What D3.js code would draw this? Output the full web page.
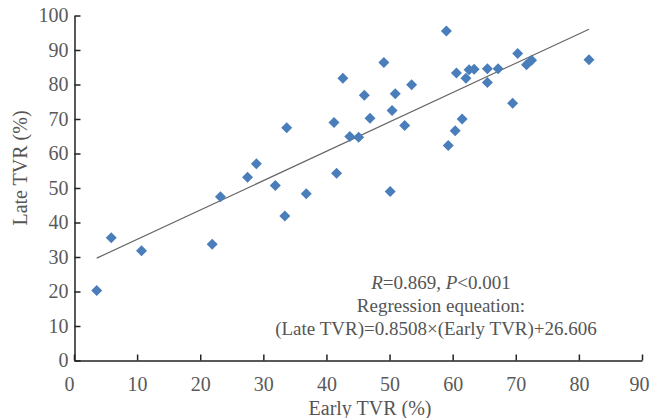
<!DOCTYPE html>
<html><head><meta charset="utf-8">
<script src="https://cdn.jsdelivr.net/npm/d3@7"></script>
<style>body{margin:0;background:#fff}svg{display:block}</style>
</head><body>
<svg id="c" width="650" height="418"></svg>
<script>
const earlyTVR = [3.6,5.9,10.7,21.9,23.2,27.5,28.9,31.9,33.4,33.7,36.8,41.2,42.6,41.6,43.7,45.1,46.0,46.9,49.1,50.1,50.4,50.9,52.4,53.5,59.0,59.3,60.4,61.5,60.6,62.1,62.6,63.4,65.5,65.5,67.2,69.5,70.3,71.7,72.5,81.6];
const lateTVR  = [20.3,35.6,31.8,33.7,47.5,53.1,57.0,50.7,41.9,67.5,48.3,69.0,81.8,54.3,64.9,64.7,76.9,70.2,86.4,49.0,72.5,77.3,68.1,79.9,95.5,62.3,66.6,70.0,83.3,81.8,84.3,84.4,84.6,80.6,84.6,74.6,89.0,85.7,87.0,87.2];
const xTicks = [0,10,20,30,40,50,60,70,80,90];
const yTicks = [0,10,20,30,40,50,60,70,80,90,100];
const slope = 0.8508, intercept = 26.606;
const statsLines = ["R=0.869, P<0.001","Regression equeation:","(Late TVR)=0.8508×(Early TVR)+26.606"];

const FONT = "Liberation Serif";
const svg = d3.select("#c");
const x = d3.scaleLinear().domain([0,90]).range([74,642]);
const y = d3.scaleLinear().domain([0,100]).range([360.5,15.5]);

const xa = svg.append("g").attr("transform","translate(0,360.5)")
  .call(d3.axisBottom(x).tickValues(xTicks).tickSize(-6).tickPadding(16).tickSizeOuter(0));
const ya = svg.append("g").attr("transform","translate(74.5,0)")
  .call(d3.axisLeft(y).tickValues(yTicks).tickSize(-6).tickPadding(6).tickSizeOuter(0));
[xa,ya].forEach(a=>{
  a.attr("font-family",FONT).attr("font-size",20);
  a.select(".domain").attr("stroke","#222").attr("stroke-width",1.5);
  a.selectAll(".tick line").attr("stroke","#222").attr("stroke-width",1.5);
  a.selectAll(".tick text").attr("font-family",FONT).attr("font-size",20).attr("fill","#5a5a5a");
});
xa.selectAll(".tick text").filter(d=>d===0).attr("dx",-5);
xa.selectAll(".tick text").filter(d=>d===90).attr("dx",-3);

// regression line
const ext = d3.extent(earlyTVR);
svg.append("line")
  .attr("x1",x(ext[0])).attr("y1",y(slope*ext[0]+intercept))
  .attr("x2",x(ext[1])).attr("y2",y(slope*ext[1]+intercept))
  .attr("stroke","#666").attr("stroke-width",1.2);

// points (diamonds)
const r = 5.5;
svg.append("g").selectAll("path").data(earlyTVR.map((v,i)=>[v,lateTVR[i]])).join("path")
  .attr("d",d=>{const cx=x(d[0]),cy=y(d[1]);return `M${cx},${cy-r}L${cx+r},${cy}L${cx},${cy+r}L${cx-r},${cy}Z`;})
  .attr("fill","#4a7ebb");

// annotation
const ann = svg.append("g").attr("font-family",FONT).attr("font-size",19).attr("fill","#555").attr("text-anchor","middle");
const t1 = ann.append("text").attr("x",441).attr("y",289);
t1.append("tspan").attr("font-style","italic").text("R");
t1.append("tspan").text("=0.869, ");
t1.append("tspan").attr("font-style","italic").text("P");
t1.append("tspan").text("<0.001");
ann.append("text").attr("x",441).attr("y",312).text(statsLines[1]);
ann.append("text").attr("x",436).attr("y",335).text(statsLines[2]);

// axis titles
svg.append("text").attr("x",370).attr("y",415).attr("text-anchor","middle")
  .attr("font-family",FONT).attr("font-size",20).attr("fill","#555").text("Early TVR (%)");
svg.append("text").attr("transform","translate(27,168) rotate(-90)").attr("text-anchor","middle")
  .attr("font-family",FONT).attr("font-size",20).attr("fill","#555").text("Late TVR (%)");
</script>
</body></html>
